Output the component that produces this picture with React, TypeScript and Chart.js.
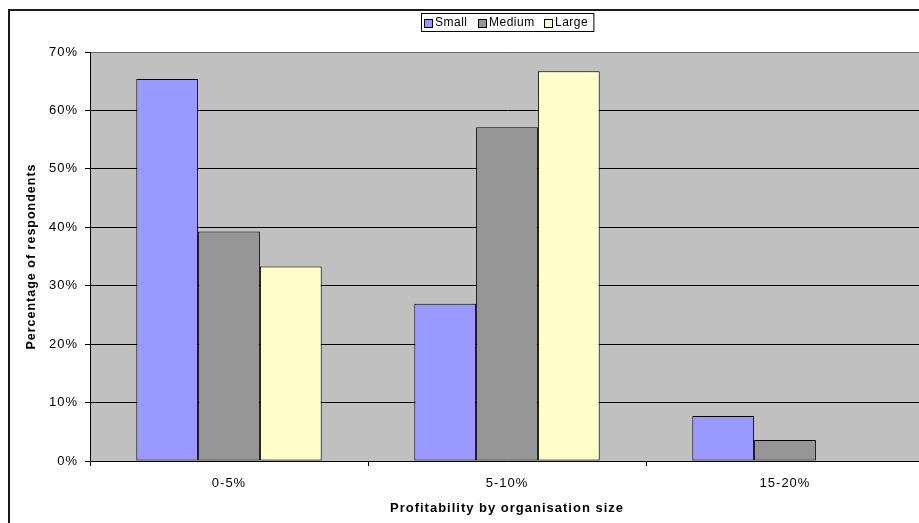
import React, { useEffect, useRef } from 'react';
import { Chart, registerables } from 'chart.js';

Chart.register(...registerables);

// Survey results: share of respondents per profitability band, by organisation size
const categories = ['0-5%', '5-10%', '15-20%'];
const seriesNames = ['Small', 'Medium', 'Large'];
const smallValues = [65.4, 26.9, 7.7];
const mediumValues = [39.3, 57.1, 3.6];
const largeValues = [33.3, 66.7, 0];
const seriesValues = [smallValues, mediumValues, largeValues];
const seriesColors = ['#9999FF', '#969696', '#FFFFCC'];

const yMin = 0;
const yMax = 70;
const yStep = 10;

const xTitle = 'Profitability by organisation size';
const yTitle = 'Percentage of respondents';

const FONT = "'Liberation Sans', Arial, Helvetica, sans-serif";
const PLOT_BG = '#C0C0C0';

// Canvas text in this chart uses slightly widened character spacing
const spacingPlugin = {
  id: 'textSpacing',
  beforeUpdate(chart: any) {
    chart.ctx.letterSpacing = '1px';
  },
  beforeDraw(chart: any) {
    chart.ctx.letterSpacing = '1px';
  },
};

// Grey plot area and the dark frame around the whole chart
const framePlugin = {
  id: 'frame',
  beforeDraw(chart: any) {
    const { ctx, chartArea } = chart;
    ctx.save();
    ctx.fillStyle = '#FFFFFF';
    ctx.fillRect(0, 0, chart.width, chart.height);
    ctx.fillStyle = PLOT_BG;
    ctx.fillRect(
      chartArea.left,
      chartArea.top,
      chartArea.right - chartArea.left,
      chartArea.bottom - chartArea.top
    );
    ctx.strokeStyle = '#1a1a1a';
    ctx.lineWidth = 2;
    ctx.strokeRect(9, 10, 2000, 2000);
    ctx.restore();
  },
};

// Boxed legend centred above the plot area
const boxedLegendPlugin = {
  id: 'boxedLegend',
  afterDraw(chart: any) {
    const { ctx, chartArea } = chart;
    const datasets = chart.data.datasets;
    ctx.save();
    ctx.font = `12px ${FONT}`;
    ctx.letterSpacing = '0.5px';
    const swatch = 8;
    const swatchGap = 3;
    const itemGap = 10;
    const padLeft = 3;
    const padRight = 5;
    const widths = datasets.map(
      (ds: any) => swatch + swatchGap + ctx.measureText(ds.label).width
    );
    const total =
      padLeft +
      padRight +
      widths.reduce((a: number, b: number) => a + b, 0) +
      itemGap * (datasets.length - 1);
    const cx = (chartArea.left + chartArea.right) / 2;
    const left = Math.round(cx - total / 2);
    const top = 13;
    const height = 18;
    const midY = top + height / 2;

    ctx.fillStyle = '#FFFFFF';
    ctx.fillRect(left, top, total, height);
    ctx.strokeStyle = '#000';
    ctx.lineWidth = 1;
    ctx.strokeRect(left + 0.5, top + 0.5, total, height);

    let x = left + padLeft;
    datasets.forEach((ds: any, i: number) => {
      const bx = Math.round(x);
      const by = Math.round(midY - swatch / 2) + 1;
      ctx.fillStyle = ds.backgroundColor;
      ctx.fillRect(bx, by, swatch, swatch);
      ctx.strokeStyle = '#000';
      ctx.strokeRect(bx + 0.5, by + 0.5, swatch, swatch);
      ctx.fillStyle = '#000';
      ctx.textBaseline = 'middle';
      ctx.textAlign = 'left';
      ctx.fillText(ds.label, bx + swatch + swatchGap, midY + 1);
      x += widths[i] + itemGap;
    });
    ctx.restore();
  },
};

export default function App() {
  const canvasRef = useRef<HTMLCanvasElement>(null);

  useEffect(() => {
    const canvas = canvasRef.current;
    if (!canvas) return;

    Chart.defaults.font.family = FONT;
    Chart.defaults.color = '#000';

    const chart = new Chart(canvas, {
      type: 'bar',
      data: {
        labels: categories,
        datasets: seriesNames.map((name, i) => ({
          label: name,
          data: seriesValues[i],
          backgroundColor: seriesColors[i],
          borderColor: '#000',
          borderWidth: (c: any) => (c.raw === 0 ? 0 : 1),
          borderSkipped: false,
          categoryPercentage: 0.667,
          barPercentage: 1,
        })),
      },
      options: {
        responsive: false,
        animation: false,
        devicePixelRatio: 1,
        layout: { padding: { left: 0, top: 52, right: 16, bottom: 0 } },
        plugins: {
          legend: { display: false },
          tooltip: { enabled: false },
          title: { display: false },
        },
        scales: {
          x: {
            afterFit: (s: any) => {
              s.height = 62;
            },
            grid: {
              display: true,
              drawOnChartArea: false,
              drawTicks: true,
              tickLength: 5,
              color: '#000',
              offset: true,
            },
            border: { display: true, color: '#000', width: 1 },
            ticks: {
              color: '#000',
              font: { size: 13 },
              padding: 10,
              maxRotation: 0,
              autoSkip: false,
            },
            title: {
              display: true,
              text: xTitle,
              color: '#000',
              font: { size: 13, weight: 'bold' },
              padding: { top: 0, bottom: 7 },
            },
          },
          y: {
            min: yMin,
            max: yMax,
            afterFit: (s: any) => {
              s.width = 90;
            },
            ticks: {
              stepSize: yStep,
              color: '#000',
              font: { size: 13 },
              padding: 7,
              callback: (v: any) => `${v}%`,
            },
            grid: {
              color: (c: any) => (c.tick && c.tick.value === yMax ? '#666' : '#000'),
              tickColor: '#000',
              tickLength: 5,
              lineWidth: 1,
            },
            border: { display: true, color: '#000', width: 1 },
            title: {
              display: true,
              text: yTitle,
              color: '#000',
              font: { size: 12.5, weight: 'bold' },
              padding: { top: 24, bottom: 0 },
            },
          },
        },
      },
      plugins: [spacingPlugin, framePlugin, boxedLegendPlugin],
    } as any);

    return () => chart.destroy();
  }, []);

  return (
    <div
      style={{
        position: 'fixed',
        left: 0,
        top: 0,
        width: 919,
        height: 523,
        overflow: 'hidden',
        background: '#fff',
      }}
    >
      <canvas ref={canvasRef} width={940} height={523} style={{ display: 'block' }} />
    </div>
  );
}
